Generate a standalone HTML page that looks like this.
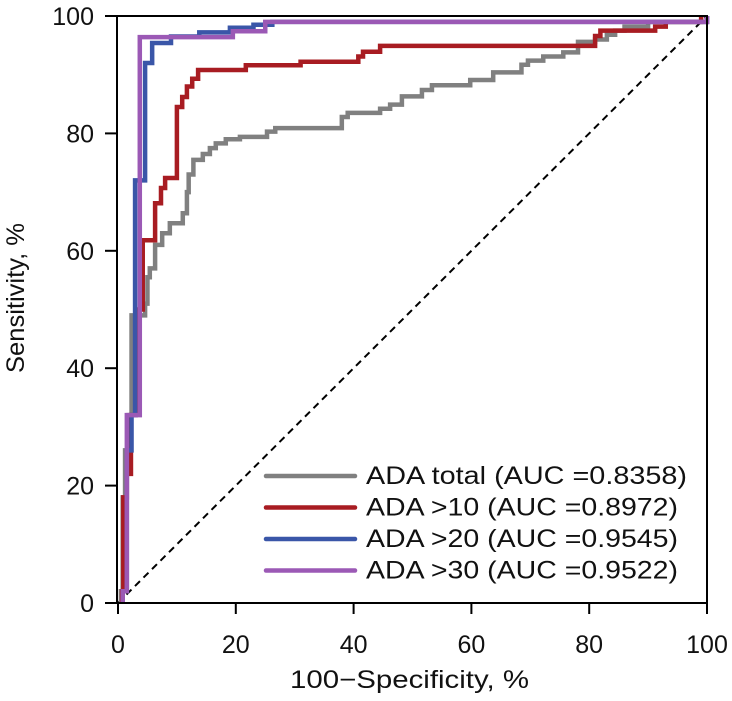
<!DOCTYPE html>
<html><head><meta charset="utf-8"><style>
body{margin:0;background:#fff;}
svg text{font-family:"Liberation Sans",sans-serif;fill:#111;}
</style></head><body>
<svg id="chart" width="732" height="696" viewBox="0 0 732 696" xmlns="http://www.w3.org/2000/svg">
<g id="series"></g>
<rect x="117" y="16" width="590" height="587" fill="none" stroke="#000" stroke-width="2"/>
<g id="axes"></g>
<text x="290" y="688" font-size="25" textLength="239" lengthAdjust="spacingAndGlyphs">100−Specificity, %</text>
<text transform="translate(24,373) rotate(-90)" font-size="25" textLength="150" lengthAdjust="spacingAndGlyphs">Sensitivity, %</text>
<g id="legend"></g>
</svg>
<script>
const xTicks=[0,20,40,60,80,100];
const yTicks=[0,20,40,60,80,100];
const seriesNames=["ADA total (AUC =0.8358)","ADA >10 (AUC =0.8972)","ADA >20 (AUC =0.9545)","ADA >30 (AUC =0.9522)"];
const seriesColors=["#808080","#a81c22","#3a56a8","#9b59b5"];
const grayFpr=[0.5,0.8,1.2,1.8,2.3,4.6,5.0,5.4,6.3,7.5,8.8,11,11.7,12,12.8,14.4,15.6,16.6,18.3,20.7,25.3,26.7,38,39,44.5,46.2,48.2,51.6,53.3,59.8,63.7,68.5,69.6,72.2,75.6,78.1,81,83,84.4,86,90,100];
const grayTpr=[2,18,26,32,49,51,55.5,57,61,63,64.7,66.4,70,73,75.5,76.5,77.5,78.3,79,79.4,80.3,80.9,82.8,83.5,84.2,84.9,86.3,87.4,88.2,89.1,90.4,91.7,92.4,93.1,93.8,95.6,96,96.8,97.5,98.2,99,100];
const redFpr=[0.7,0.9,1.5,2.2,3,4.2,6.3,7.3,8,10,10.9,11.7,12.6,13.6,21.7,31,40.8,41.6,44.5,81,81.9,91.2,93,99];
const redTpr=[2,18,22,32,50,61.8,68.1,70.7,72.4,84.5,86.2,88,89.3,90.8,91.6,92.2,93.1,93.9,94.9,96.6,97.5,98.2,99,100];
const blueFpr=[0.8,1.5,2.3,2.9,4.6,5.8,9,13.8,19,23,26.2,100];
const blueTpr=[2,26,32,72,92,95.4,96.5,97.2,98,98.5,99,100];
const purpleFpr=[0.8,1.5,3.7,19.5,25,100];
const purpleTpr=[2,32,96.4,97.4,99,100];
const fprs=[grayFpr,redFpr,blueFpr,purpleFpr];
const tprs=[grayTpr,redTpr,blueTpr,purpleTpr];
const NS="http://www.w3.org/2000/svg";
const X=v=>118+v*5.89, Y=v=>603-v*5.87;
const axes=document.getElementById('axes');
xTicks.forEach(t=>{
  const l=document.createElementNS(NS,'line');
  
  
  l.setAttribute('x1',X(t));l.setAttribute('x2',X(t));l.setAttribute('y1',603);l.setAttribute('y2',614);l.setAttribute('stroke','#000');l.setAttribute('stroke-width','2');
  axes.appendChild(l);
  const s=document.createElementNS(NS,'text');
  
  
  s.setAttribute('x',X(t));s.setAttribute('y',653);s.setAttribute('font-size','25');s.setAttribute('text-anchor','middle');s.textContent=t;
  axes.appendChild(s);
});
yTicks.forEach(t=>{
  const l=document.createElementNS(NS,'line');
  
  
  l.setAttribute('x1',105);l.setAttribute('x2',117);l.setAttribute('y1',Y(t));l.setAttribute('y2',Y(t));l.setAttribute('stroke','#000');l.setAttribute('stroke-width','2');
  axes.appendChild(l);
  const s=document.createElementNS(NS,'text');
  
  
  s.setAttribute('x',94);s.setAttribute('y',Y(t)+9);s.setAttribute('font-size','25');s.setAttribute('text-anchor','end');s.textContent=t;
  axes.appendChild(s);
});
const ser=document.getElementById('series');
const diag=document.createElementNS(NS,'line');


diag.setAttribute('x1',X(0));diag.setAttribute('y1',Y(0));diag.setAttribute('x2',X(100));diag.setAttribute('y2',Y(100));
diag.setAttribute('stroke','#000');diag.setAttribute('stroke-width','2');diag.setAttribute('stroke-dasharray','7,5');
ser.appendChild(diag);
fprs.forEach((f,i)=>{
  const t=tprs[i];
  let d='M'+X(f[0])+','+Y(0);
  for(let k=0;k<f.length;k++){d+=' H'+X(f[k])+' V'+Y(t[k]);}
  const p=document.createElementNS(NS,'path');
  
  
  p.setAttribute('d',d);p.setAttribute('fill','none');p.setAttribute('stroke',seriesColors[i]);p.setAttribute('stroke-width','4.5');
  ser.appendChild(p);
});
const leg=document.getElementById('legend');
seriesNames.forEach((n,i)=>{
  const y=476+i*31.5;
  const l=document.createElementNS(NS,'line');
  
  
  l.setAttribute('x1',266);l.setAttribute('x2',355);l.setAttribute('y1',y);l.setAttribute('y2',y);l.setAttribute('stroke',seriesColors[i]);l.setAttribute('stroke-width','4.5');l.setAttribute('stroke-linecap','round');
  leg.appendChild(l);
  const s=document.createElementNS(NS,'text');
  
  
  s.setAttribute('x',366);s.setAttribute('y',y+8);s.setAttribute('font-size','25');s.setAttribute('textLength',i===0?321:312);s.setAttribute('lengthAdjust','spacingAndGlyphs');s.textContent=n;
  leg.appendChild(s);
});
</script>
</body></html>
